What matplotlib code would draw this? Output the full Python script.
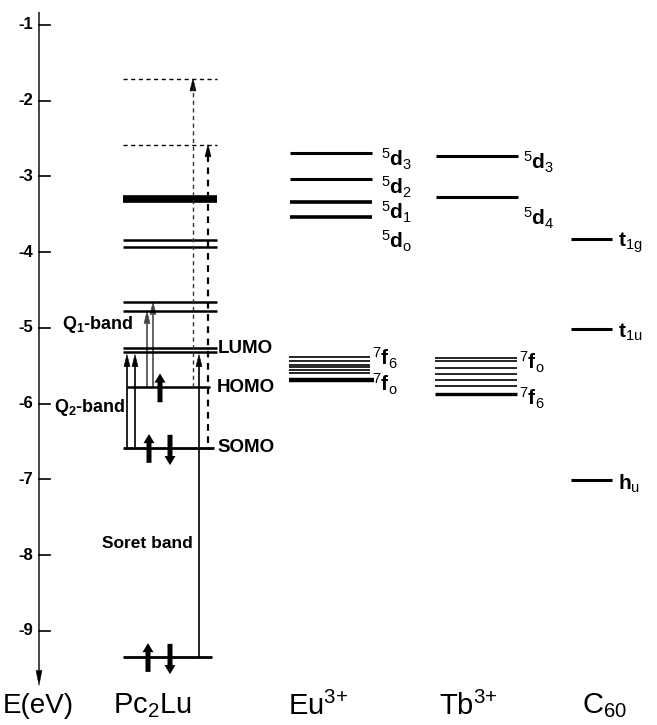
import matplotlib.pyplot as plt

plt.rcParams['font.family'] = ['Liberation Sans', 'DejaVu Sans']
plt.rcParams['mathtext.fontset'] = 'custom'
plt.rcParams['mathtext.rm'] = 'Liberation Sans'
plt.rcParams['mathtext.it'] = 'Liberation Sans:italic'
plt.rcParams['mathtext.bf'] = 'Liberation Sans:bold'

# energy levels (eV)
energy_ticks = [-1, -2, -3, -4, -5, -6, -7, -8, -9]

pc_virtual = [-1.71, -2.58]                 # dashed levels
pc_levels = [-3.30, -3.84, -3.93, -4.66, -4.78, -5.27, -5.32, -5.78, -6.58, -9.34]
pc_names = {'LUMO': -5.27, 'HOMO': -5.78, 'SOMO': -6.58}

eu_5d = [-2.69, -3.03, -3.34, -3.53]
eu_5d_names = ['3', '2', '1', 'o']
eu_7f = [-5.38, -5.44, -5.49, -5.52, -5.55, -5.60, -5.68]

tb_5d = [-2.73, -3.27]
tb_5d_names = ['3', '4']
tb_7f = [-5.40, -5.44, -5.53, -5.61, -5.69, -5.77, -5.87]

c60 = [-3.83, -5.01, -7.01]
c60_names = ['1g', '1u', 'u']

columns = ['Pc$_2$Lu', 'Eu$^{3{+}}$', 'Tb$^{3{+}}$', 'C$_{60}$']

# ---- figure: x in pixel-like layout units, y in eV
fig = plt.figure(figsize=(6.57, 7.25), dpi=100)
ax = fig.add_axes([0, 0, 1, 1])
ax.set_xlim(0, 657)
ax.set_ylim(-10.241, -0.670)
ax.axis('off')

# energy axis
ax.arrow(39, -0.83, 0, -9.72 + 0.83, width=1.0, head_width=6, head_length=0.2,
         length_includes_head=True, color='black', lw=0.3)
for e in energy_ticks:
    ax.plot([39, 50], [e, e], color='black', lw=1.2)
    ax.text(33, e, str(e), ha='right', va='center', fontsize=12, fontweight='bold')

# Pc2Lu levels
pc_lw = [5.5, 1.8, 1.8, 1.8, 1.8, 1.8, 1.8, 1.8, 2.0, 2.0]
pc_x0 = [123, 123, 123, 123, 123, 123, 123, 127, 123, 123]
pc_x1 = [217, 217, 217, 217, 217, 217, 217, 210, 214, 212]
for e, lw, x0, x1 in zip(pc_levels, pc_lw, pc_x0, pc_x1):
    ax.plot([x0, x1], [e, e], color='black', lw=lw, solid_capstyle='butt')
for e in pc_virtual:
    ax.plot([123, 217], [e, e], color='black', lw=1.0, ls=(0, (3, 2.5)))

for name, e in pc_names.items():
    ax.text(217 if name != 'LUMO' else 218, e, name, ha='left', va='center',
            fontsize=13.5, fontweight='bold')

homo, somo, lumo_lo, bottom = pc_levels[7], pc_levels[8], pc_levels[6], pc_levels[9]


def trans(x, e0, e1, color='black', w=1.3):
    ax.arrow(x, e0, 0, e1 - e0, width=w, head_width=6, head_length=0.16,
             length_includes_head=True, facecolor=color, edgecolor=color, lw=0.4)


# Q2 band (SOMO -> LUMO)
trans(127, somo, lumo_lo - 0.03)
trans(135, somo, lumo_lo - 0.03)
# Q1 band (HOMO -> upper levels)
trans(147, homo, pc_levels[4], color='#444444', w=1.1)
trans(153, homo, pc_levels[3], color='#444444', w=1.1)
# Soret band
trans(199, bottom, lumo_lo - 0.03)

# dashed transitions to virtual levels
ax.plot([193, 193], [homo, pc_virtual[0] - 0.1], color='#333333', lw=1.0, ls=(0, (3, 2.5)))
trans(193, pc_virtual[0] - 0.15, pc_virtual[0], w=1.0)
ax.plot([208, 208], [somo + 0.06, pc_virtual[1] - 0.1], color='black', lw=1.6, ls=(0, (3, 2.5)))
trans(208, pc_virtual[1] - 0.15, pc_virtual[1], w=1.2)


# electron spins
def spin(x, e, up=True):
    e0, e1 = (e - 0.2, e + 0.18) if up else (e + 0.17, e - 0.23)
    ax.arrow(x, e0, 0, e1 - e0, width=5, head_width=11, head_length=0.12,
             length_includes_head=True, color='black', lw=0)


spin(160, homo, up=True)
spin(149, somo, up=True)
spin(170, somo, up=False)
spin(148, bottom, up=True)
spin(170, bottom, up=False)

ax.text(62, -4.96, r'Q$_\mathbf{1}$-band', ha='left', va='center', fontsize=13, fontweight='bold')
ax.text(54, -6.05, r'Q$_\mathbf{2}$-band', ha='left', va='center', fontsize=13, fontweight='bold')
ax.text(102, -7.84, 'Soret band', ha='left', va='center', fontsize=12.5, fontweight='bold')

# Eu3+
eu_5d_lw = [2.2, 2.2, 2.6, 2.6]
for e, lw in zip(eu_5d, eu_5d_lw):
    ax.plot([290, 372], [e, e], color='black', lw=lw, solid_capstyle='butt')
eu_5d_lab_y = [-2.78, -3.15, -3.48, -3.86]
for n, y in zip(eu_5d_names, eu_5d_lab_y):
    ax.text(381, y, r'$^{5}\mathbf{d}_{\mathrm{%s}}$' % n, ha='left', va='center', fontsize=15)
for i, e in enumerate(eu_7f):
    lw = 3.2 if i == len(eu_7f) - 1 else 1.2
    ax.plot([289, 370 if i < len(eu_7f) - 1 else 374], [e, e], color='black', lw=lw,
            solid_capstyle='butt')
ax.text(372, -5.40, r'$^{7}\mathbf{f}_{\mathrm{6}}$', ha='left', va='center', fontsize=15)
ax.text(372, -5.75, r'$^{7}\mathbf{f}_{\mathrm{o}}$', ha='left', va='center', fontsize=15)

# Tb3+
for e in tb_5d:
    ax.plot([436, 518], [e, e], color='black', lw=2.2, solid_capstyle='butt')
tb_5d_lab_y = [-2.81, -3.55]
for n, y in zip(tb_5d_names, tb_5d_lab_y):
    ax.text(523, y, r'$^{5}\mathbf{d}_{\mathrm{%s}}$' % n, ha='left', va='center', fontsize=15)
for i, e in enumerate(tb_7f):
    lw = 2.4 if i == len(tb_7f) - 1 else 1.2
    ax.plot([435, 517], [e, e], color='black', lw=lw, solid_capstyle='butt')
ax.text(519, -5.45, r'$^{7}\mathbf{f}_{\mathrm{o}}$', ha='left', va='center', fontsize=15)
ax.text(519, -5.93, r'$^{7}\mathbf{f}_{\mathrm{6}}$', ha='left', va='center', fontsize=15)

# C60
for e, n in zip(c60, c60_names):
    ax.plot([571, 612], [e, e], color='black', lw=2.2, solid_capstyle='butt')
    sym = 'h' if n == 'u' else 't'
    ax.text(618, e - 0.05, r'$\mathbf{%s}_{\mathrm{%s}}$' % (sym, n), ha='left',
            va='center', fontsize=15)

# column titles
title_e = -9.33 - (707 - 657) / 75.75
ax.text(38, title_e, 'E(eV)', ha='center', va='center', fontsize=20)
title_x = [152, 318, 468, 605]
for t, x in zip(columns, title_x):
    ax.text(x, title_e, t, ha='center', va='center', fontsize=21)

fig.savefig('out.png', dpi=100)
